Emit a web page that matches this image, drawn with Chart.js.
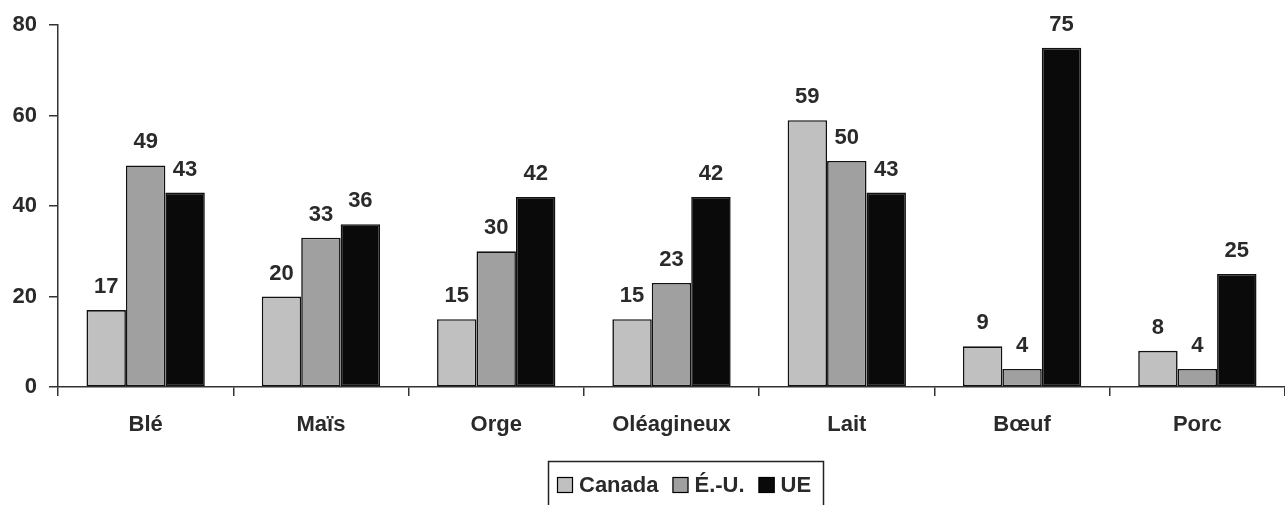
<!DOCTYPE html>
<html>
<head>
<meta charset="utf-8">
<style>
  html, body { margin: 0; padding: 0; background: #ffffff; }
  #wrap { width: 1285px; height: 505px; }
</style>
<script src="https://cdn.jsdelivr.net/npm/chart.js@4/dist/chart.umd.min.js"></script>
</head>
<body>
<div id="wrap"><canvas id="c" width="1285" height="505"></canvas></div>
<script>
// Products compared
const categories = ['Blé', 'Maïs', 'Orge', 'Oléagineux', 'Lait', 'Bœuf', 'Porc'];

// Values per region
const canada = [17, 20, 15, 15, 59, 9, 8];
const usa    = [49, 33, 30, 23, 50, 4, 4];
const eu     = [43, 36, 42, 42, 43, 75, 25];

const seriesNames = ['Canada', 'É.-U.', 'UE'];
const seriesColors = ['#c0c0c0', '#a0a0a0', '#0a0a0a'];

// Y axis range and step
const yMin = 0, yMax = 80, yStep = 20;

const FONT = '"Liberation Sans", Arial, sans-serif';
const FSIZE = 22;
const TEXT = '#2a2a2a';
const AXIS = '#333333';

// Value labels above each bar
const valueLabels = {
  id: 'valueLabels',
  afterDatasetsDraw(chart) {
    const ctx = chart.ctx;
    ctx.save();
    ctx.font = 'bold ' + FSIZE + 'px ' + FONT;
    ctx.fillStyle = TEXT;
    ctx.textAlign = 'center';
    ctx.textBaseline = 'alphabetic';
    chart.data.datasets.forEach((ds, i) => {
      const meta = chart.getDatasetMeta(i);
      meta.data.forEach((bar, j) => {
        ctx.fillText(String(ds.data[j]), bar.x, bar.y - 17);
      });
    });
    ctx.restore();
  }
};

// Boxed legend under the plot
const boxedLegend = {
  id: 'boxedLegend',
  afterDraw(chart) {
    const ctx = chart.ctx;
    ctx.save();
    ctx.font = 'bold ' + FSIZE + 'px ' + FONT;
    const box = 16, gapText = 6, gapItem = 14;
    const frameL = 548.5, frameR = 823.5, frameT = 461.5;
    ctx.strokeStyle = '#222';
    ctx.lineWidth = 1.5;
    ctx.beginPath();
    ctx.moveTo(frameL, 520);
    ctx.lineTo(frameL, frameT);
    ctx.lineTo(frameR, frameT);
    ctx.lineTo(frameR, 520);
    ctx.stroke();
    let x = 557;
    const cy = 485;
    ctx.textBaseline = 'middle';
    ctx.textAlign = 'left';
    chart.data.datasets.forEach(ds => {
      const w = ctx.measureText(ds.label).width;
      ctx.fillStyle = ds.backgroundColor;
      ctx.fillRect(x, cy - box / 2, box, box);
      ctx.strokeStyle = '#000';
      ctx.lineWidth = 1.2;
      ctx.strokeRect(x + 0.5, cy - box / 2 + 0.5, box - 1, box - 1);
      x += box + gapText;
      ctx.fillStyle = TEXT;
      ctx.fillText(ds.label, x, cy + 1);
      x += w + gapItem;
    });
    ctx.restore();
  }
};

const datasets = [canada, usa, eu].map((d, i) => ({
  label: seriesNames[i],
  data: d,
  backgroundColor: seriesColors[i],
  borderColor: '#111',
  borderWidth: 1.6,
  borderSkipped: false,
  barPercentage: 1.0,
  categoryPercentage: 0.675
}));

new Chart(document.getElementById('c'), {
  type: 'bar',
  data: { labels: categories, datasets },
  options: {
    responsive: false,
    animation: false,
    layout: { padding: { top: 25, right: 0, bottom: 0, left: 0 } },
    plugins: {
      legend: { display: false },
      tooltip: { enabled: false }
    },
    scales: {
      x: {
        afterFit(s) { s.height = 118; },
        grid: {
          offset: true,
          drawOnChartArea: false,
          drawTicks: true,
          tickLength: 9,
          color: AXIS,
          lineWidth: 1.5
        },
        border: { display: true, color: AXIS, width: 1.5 },
        ticks: {
          font: { family: FONT, size: FSIZE, weight: 'bold' },
          color: TEXT,
          padding: 16,
          maxRotation: 0
        }
      },
      y: {
        min: yMin, max: yMax,
        afterFit(s) { s.width = 58; },
        grid: {
          drawOnChartArea: false,
          drawTicks: true,
          tickLength: 9,
          color: AXIS,
          lineWidth: 1.5
        },
        border: { display: true, color: AXIS, width: 1.5 },
        ticks: {
          stepSize: yStep,
          font: { family: FONT, size: FSIZE, weight: 'bold' },
          color: TEXT,
          padding: 12
        }
      }
    }
  },
  plugins: [valueLabels, boxedLegend]
});
</script>
</body>
</html>
